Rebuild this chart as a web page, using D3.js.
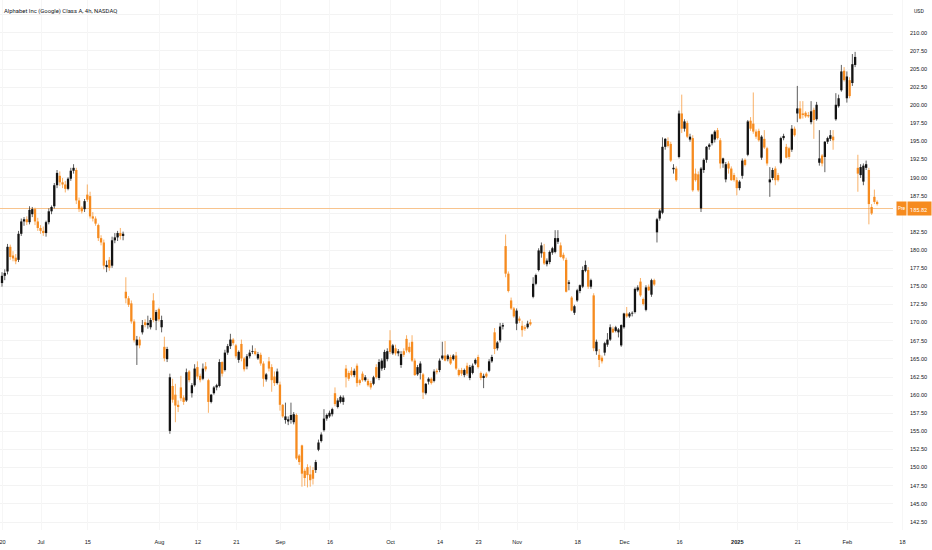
<!DOCTYPE html>
<html>
<head>
<meta charset="utf-8">
<script src="https://cdn.jsdelivr.net/npm/d3@7"></script>
<style>
  html, body { margin: 0; padding: 0; background: #fff; }
  svg { display: block; font-family: Roboto, "Liberation Sans", Arial, sans-serif; }
</style>
</head>
<body>
<svg id="chart" width="932" height="550"></svg>
<script>
// GOOGL 4h bars, Jun 20 2024 .. Feb 10 2025 (two bars per session, one on half days)
var opens = [
  175.4,176.4,177.0,180.4,179.2,178.9,178.6,182.2,183.9,184.2,183.8,184.9,185.6,183.9,
  183.0,182.6,182.3,183.8,185.3,186.0,188.9,190.2,189.3,189.0,188.4,189.8,190.9,191.0,186.8,185.8,185.6,187.6,187.4,184.6,184.3,183.4,181.6,181.0,177.6,178.6,177.8,181.3,181.7,182.3,181.9,174.2,173.3,172.6,170.1,166.8,167.6,168.6,170.0,169.6,169.3,173.0,170.2,
  171.8,169.3,166.6,164.9,155.0,161.2,160.0,158.6,161.0,159.6,159.2,163.2,160.2,161.3,163.8,162.6,162.2,163.9,162.0,159.0,160.2,161.0,161.2,164.5,163.4,165.8,166.7,167.6,166.8,164.8,167.0,165.0,163.9,165.3,165.9,166.0,165.0,165.5,164.3,162.1,164.6,163.8,162.5,161.6,
  161.4,158.6,156.5,156.3,156.5,156.2,157.2,151.6,153.0,149.5,150.0,149.0,149.6,149.6,152.4,153.6,155.1,156.7,157.0,157.3,160.2,158.3,159.0,159.0,163.6,163.0,163.3,162.7,164.0,162.0,162.9,162.0,161.9,161.6,161.5,163.8,162.3,163.6,163.7,164.9,
  167.5,165.7,166.4,165.7,164.1,166.0,167.7,166.6,167.3,164.7,162.8,163.0,162.8,160.2,161.8,162.2,161.9,163.3,163.4,165.0,165.4,164.9,165.2,164.9,165.4,163.4,163.4,162.7,164.0,162.3,163.0,164.3,165.2,163.0,162.3,162.9,163.3,164.6,168.6,166.4,167.5,169.4,180.5,176.7,173.0,171.9,
  169.8,170.5,169.5,169.3,169.3,170.0,173.5,175.3,177.2,179.5,179.7,178.0,178.3,179.6,179.7,181.1,180.6,179.3,178.6,175.3,173.4,171.3,173.0,174.3,174.9,177.1,177.2,174.9,173.7,166.0,165.5,165.1,165.8,166.9,167.6,169.1,168.8,168.6,166.8,
  169.3,171.2,170.8,171.2,171.4,174.4,175.6,173.2,171.7,174.9,173.8,175.8,182.4,184.3,185.1,194.2,195.0,194.6,191.1,191.2,192.8,198.8,196.7,197.5,195.2,195.4,190.5,190.4,185.7,191.0,192.4,194.2,194.7,195.2,196.5,195.1,191.9,189.7,191.9,191.2,190.3,
  189.6,188.5,190.2,192.4,193.1,197.8,197.4,196.3,196.4,192.7,195.3,194.0,189.3,189.9,191.2,190.3,192.0,195.4,194.2,194.0,193.8,196.7,198.8,199.5,198.8,198.9,198.6,197.6,199.3,198.0,192.0,193.0,192.8,194.9,195.3,195.6,198.0,199.8,202.0,204.7,
  200.9,203.4,203.0,205.5,191.3,190.3,189.4,191.3,191.0,185.9,187.3,186.6
];
var highs = [
  176.9,177.3,180.8,180.7,179.8,179.4,182.6,184.3,184.5,184.6,186.0,185.9,185.8,184.4,
  183.4,183.2,184.0,185.7,186.1,189.2,191.0,190.8,189.9,189.5,190.0,191.3,191.8,191.3,187.2,186.0,187.0,189.0,188.0,185.2,184.6,183.6,182.0,181.4,178.5,179.0,181.8,182.3,182.6,183.0,182.5,176.2,173.6,173.0,170.4,168.1,168.0,170.3,170.4,170.9,170.6,174.0,171.7,
  172.0,170.9,168.0,166.6,162.9,162.2,161.5,159.2,162.6,159.9,163.6,163.4,161.6,164.2,164.6,162.9,164.3,164.5,162.2,160.1,161.2,161.5,164.9,164.6,166.2,167.0,168.4,167.8,167.0,166.1,167.6,165.2,165.6,166.2,166.8,166.4,165.9,165.8,164.6,163.0,165.2,164.2,163.2,163.6,
  161.8,158.7,158.9,157.0,158.9,157.6,157.4,151.8,153.1,149.8,150.4,150.2,150.0,151.0,153.8,154.8,158.0,157.4,157.8,158.2,161.0,159.5,159.9,159.9,164.1,163.3,163.8,163.6,164.3,162.2,163.2,162.7,162.2,161.9,162.6,164.2,164.9,165.0,166.2,166.4,
  168.9,167.0,166.9,166.3,166.0,166.4,168.2,167.2,168.2,165.0,164.1,164.6,163.0,161.6,162.4,162.4,163.5,163.6,165.0,167.3,167.4,165.6,165.5,165.6,165.9,163.6,163.7,163.6,164.4,164.1,164.3,165.0,165.5,163.2,162.9,163.1,164.9,165.5,169.2,167.4,169.9,169.9,182.1,177.0,173.4,172.1,
  171.9,170.8,170.2,169.6,170.2,170.4,176.2,176.7,180.2,181.0,180.8,178.8,179.9,180.4,182.7,182.7,181.0,179.6,178.9,175.8,173.6,172.4,174.6,175.2,177.7,178.5,177.6,176.0,174.0,167.6,166.3,165.4,167.3,168.5,169.7,169.4,169.5,169.2,169.7,
  171.3,172.1,171.4,171.5,174.8,175.1,176.1,173.4,175.1,175.2,176.0,176.0,184.4,185.6,195.5,195.4,195.5,194.9,191.8,191.5,199.2,201.4,198.0,197.8,196.0,195.8,191.2,190.8,191.4,192.6,194.3,194.7,196.0,196.5,196.8,195.4,192.7,192.1,192.2,191.5,190.6,
  190.0,189.6,192.6,192.6,197.9,198.3,201.7,196.6,196.7,195.8,196.5,194.2,191.4,191.3,191.5,190.6,195.6,196.0,194.6,194.2,197.2,197.0,202.6,200.5,200.5,199.1,199.0,200.5,199.6,200.4,196.5,193.2,195.0,195.6,196.5,196.5,201.6,201.4,205.5,205.2,
  204.6,203.8,207.0,207.3,193.1,191.8,191.9,192.3,191.3,186.3,188.3,186.8
];
var lows = [
  174.9,175.8,176.6,178.6,178.4,178.0,178.3,181.9,183.3,183.4,183.5,184.5,183.4,182.6,
  182.2,181.9,181.8,183.5,184.9,185.7,188.5,188.8,188.5,187.9,188.2,189.5,190.5,186.3,185.2,185.0,185.2,186.6,184.3,183.9,183.3,181.2,180.6,177.3,176.9,177.1,177.5,180.9,181.2,181.4,181.3,172.6,172.1,169.8,167.2,164.1,166.4,168.3,169.3,169.1,169.0,170.0,168.9,
  170.1,168.6,164.6,164.5,154.6,158.9,156.2,157.6,159.1,158.6,159.0,161.7,159.6,161.1,162.2,161.7,162.0,163.2,157.5,158.8,160.0,160.6,161.0,162.5,163.2,165.5,166.3,166.8,165.0,164.4,164.6,163.2,163.5,165.0,165.6,165.4,164.8,164.0,161.1,161.8,163.2,160.4,161.2,161.4,
  157.8,156.8,156.0,155.8,156.0,155.9,151.0,150.3,147.3,147.4,147.2,147.3,147.6,149.2,152.2,153.4,154.9,156.4,156.8,157.0,158.4,158.1,158.8,158.6,161.0,161.9,162.5,162.4,161.1,161.3,161.8,161.8,161.1,160.7,161.3,162.2,162.0,163.3,163.4,164.6,
  165.6,165.5,165.4,165.3,163.7,165.2,165.8,165.7,164.5,162.6,162.6,162.1,159.4,160.0,161.4,161.4,161.7,162.8,163.1,164.8,164.6,164.6,164.1,164.7,163.4,162.5,162.6,162.4,162.6,162.0,162.8,164.1,163.6,162.0,160.9,162.3,163.1,164.4,165.6,166.1,167.2,169.0,176.2,174.1,171.7,170.6,
  168.9,169.9,168.0,168.8,169.1,169.5,173.3,175.1,177.0,178.9,177.9,177.7,178.0,179.3,179.5,180.8,178.9,178.5,174.1,174.4,171.5,171.0,172.8,174.0,174.7,176.9,174.6,174.6,166.0,165.5,163.8,164.3,165.4,166.6,167.4,168.5,168.6,167.9,166.6,
  169.1,170.6,170.6,170.8,171.2,174.2,173.5,172.3,171.5,174.3,173.5,175.0,181.0,184.0,184.9,193.8,194.1,192.1,190.5,189.4,192.6,196.1,196.3,195.4,194.9,188.0,189.4,188.0,185.2,190.6,192.0,193.8,194.4,194.8,195.2,191.2,191.3,189.3,190.5,189.5,189.4,
  187.5,188.2,189.8,191.5,192.9,196.4,196.0,195.3,194.9,192.4,193.9,191.6,187.3,189.6,188.9,189.4,191.8,195.1,192.6,192.5,193.5,195.6,197.6,198.0,198.1,198.2,198.2,197.3,195.3,197.8,191.6,191.5,190.7,194.6,195.0,193.8,197.8,199.6,201.8,203.2,
  200.3,200.9,202.6,205.2,188.0,189.9,188.9,191.0,183.5,184.8,186.3,186.1
];
var closes = [
  176.4,176.8,180.4,179.0,178.8,178.4,182.2,183.9,184.2,183.8,185.5,185.6,183.9,183.0,
  182.6,182.3,183.8,185.3,185.9,188.9,190.6,189.3,189.0,188.4,189.8,190.9,191.3,186.8,185.6,185.3,186.7,186.9,184.6,184.3,183.6,181.6,181.0,177.8,177.9,177.5,181.3,181.7,182.3,181.9,182.2,173.3,172.4,170.1,167.5,167.6,166.8,169.6,169.6,169.9,170.3,170.3,171.4,
  170.4,170.3,165.0,166.3,162.4,159.3,158.5,158.3,159.5,159.0,163.1,162.0,161.3,163.6,162.5,162.0,163.6,163.5,159.0,160.0,161.0,161.3,164.5,162.9,165.8,166.7,167.6,167.1,165.3,165.9,165.0,163.5,165.3,165.8,166.0,165.6,165.6,164.3,162.2,162.8,163.6,162.0,161.6,163.2,
  158.6,157.0,157.0,156.6,157.2,157.3,151.2,150.7,149.1,148.5,148.9,148.2,148.4,150.7,153.4,154.5,156.7,157.2,157.5,158.0,158.7,159.2,159.7,159.6,162.4,162.2,162.7,163.3,161.6,161.6,162.0,162.4,161.3,161.0,162.4,162.4,164.5,164.7,165.9,166.0,
  165.9,166.8,165.7,166.0,165.6,165.5,166.1,165.9,164.7,162.7,163.8,164.3,160.3,161.5,162.2,161.6,163.2,163.1,164.7,165.4,164.7,165.4,164.3,165.4,163.6,162.7,162.9,163.4,162.9,163.8,164.0,164.8,163.8,162.3,162.6,162.5,164.6,165.2,166.3,167.2,169.4,169.6,176.7,174.3,171.9,170.8,
  171.6,170.2,168.9,169.1,169.8,169.7,175.3,176.5,179.9,180.6,178.1,178.5,179.7,180.2,181.6,181.6,179.0,178.8,174.2,175.5,171.6,172.2,174.4,175.1,177.2,177.9,174.9,175.8,166.4,167.3,164.8,164.6,167.1,167.6,169.3,168.6,169.3,169.0,169.6,
  171.2,170.8,171.2,171.3,174.6,174.8,173.7,172.5,174.8,174.4,175.8,175.2,184.2,185.4,194.2,195.3,194.3,192.3,191.3,189.6,198.8,196.7,197.7,195.6,195.6,188.2,189.6,188.2,191.2,192.4,194.2,194.5,195.9,196.3,195.4,191.9,192.6,191.8,191.2,189.6,189.6,
  188.5,189.4,192.3,191.7,197.7,196.7,196.3,195.6,195.1,195.6,194.1,191.9,189.7,191.0,189.6,189.6,195.4,195.7,192.7,192.8,196.7,195.8,199.5,198.1,198.6,198.4,198.4,199.1,197.9,200.0,192.6,191.9,194.9,195.4,195.8,195.1,200.0,200.9,204.6,203.4,
  203.9,201.2,205.6,206.6,190.5,191.4,191.6,191.8,186.3,185.0,186.6,186.3
];

// time axis: bar index of each label and its text
var timeTickIdx = [0, 14, 31, 57, 71, 85, 101, 119, 141, 159, 173, 187, 209, 226, 246, 267, 289, 307, 327];
var timeTickLabels = ["20", "Jul", "15", "Aug", "12", "21", "Sep", "16", "Oct", "14", "23", "Nov", "18", "Dec", "16", "2025", "21", "Feb", "18"];
var priceTicks = [142.5, 145, 147.5, 150, 152.5, 155, 157.5, 160, 162.5, 165, 167.5, 170, 172.5, 175, 177.5,
                  180, 182.5, 185, 187.5, 190, 192.5, 195, 197.5, 200, 202.5, 205, 207.5, 210, 212.5];
var lastPrice = 185.82;
var title = "Alphabet Inc (Google) Class A, 4h, NASDAQ";

var W = 932, H = 550;
var plotRight = 893, plotBottom = 530;
var barStep = 2.752, bodyW = 2.3;
var upColor = "#131313", downColor = "#f68b1f", textColor = "#131722";

var svg = d3.select("#chart");

var x = d3.scaleLinear().domain([0, 327]).range([2, 2 + barStep * 327]);
var y = d3.scaleLinear().domain([142.5, 210]).range([521.5, 32.3]);

var bars = d3.range(closes.length).map(function(i) {
  return { i: i, o: opens[i], h: highs[i], l: lows[i], c: closes[i] };
});

svg.append("defs").append("clipPath").attr("id", "plotclip")
  .append("rect").attr("x", 0).attr("y", 0).attr("width", plotRight).attr("height", plotBottom);

// grid
var grid = svg.append("g");
grid.selectAll(".hg").data(priceTicks).enter().append("line")
  .attr("x1", 0).attr("x2", plotRight)
  .attr("y1", function(d) { return Math.round(y(d)) + 0.5; })
  .attr("y2", function(d) { return Math.round(y(d)) + 0.5; })
  .attr("stroke", "#f3f3f3").attr("stroke-width", 1);
grid.selectAll(".vg").data(timeTickIdx).enter().append("line")
  .attr("x1", function(d) { return Math.round(x(d)) + 0.5; })
  .attr("x2", function(d) { return Math.round(x(d)) + 0.5; })
  .attr("y1", 0).attr("y2", plotBottom)
  .attr("stroke", "#f6f6f6").attr("stroke-width", 1);

var plot = svg.append("g").attr("clip-path", "url(#plotclip)");

// last (pre-market) price line
var tagY = Math.round(y(lastPrice)) + 0.5;
plot.append("line")
  .attr("x1", 0).attr("x2", plotRight)
  .attr("y1", tagY).attr("y2", tagY)
  .attr("stroke", "#f8c48e").attr("stroke-width", 1);

function colorOf(d) { return d.c >= d.o ? upColor : downColor; }

plot.selectAll(".wick").data(bars).enter().append("line")
  .attr("class", "wick")
  .attr("x1", function(d) { return x(d.i); })
  .attr("x2", function(d) { return x(d.i); })
  .attr("y1", function(d) { return y(Math.max(d.h, d.o, d.c)); })
  .attr("y2", function(d) { return y(Math.min(d.l, d.o, d.c)); })
  .attr("stroke", colorOf).attr("stroke-width", 0.8).attr("stroke-opacity", 0.85);

plot.selectAll(".body").data(bars).enter().append("rect")
  .attr("class", "body")
  .attr("x", function(d) { return x(d.i) - bodyW / 2; })
  .attr("width", bodyW)
  .attr("y", function(d) { return y(Math.max(d.o, d.c)); })
  .attr("height", function(d) { return Math.max(0.8, Math.abs(y(d.o) - y(d.c))); })
  .attr("fill", colorOf);

// price scale (labels near the price tag are hidden like the original)
var yAxis = d3.axisRight(y)
  .tickValues(priceTicks.filter(function(p) { return p <= 210 && Math.abs(y(p) - tagY) > 9; }))
  .tickFormat(d3.format(".2f")).tickSize(0).tickPadding(0);
var yg = svg.append("g").attr("transform", "translate(910,0)").call(yAxis);
yg.select(".domain").remove();
yg.selectAll("text").attr("font-size", 5.6).attr("font-family", null).attr("fill", textColor);

// time scale
var xAxis = d3.axisBottom(x)
  .tickValues(timeTickIdx)
  .tickFormat(function(d, i) { return timeTickLabels[i]; })
  .tickSize(0).tickPadding(3);
var xg = svg.append("g").attr("transform", "translate(0,537)").call(xAxis);
xg.select(".domain").remove();
xg.selectAll("text").attr("font-size", 5.6).attr("font-family", null).attr("fill", textColor)
  .attr("font-weight", function(d, i) { return timeTickLabels[i] === "2025" ? "bold" : null; });

// header texts
svg.append("text").attr("x", 4).attr("y", 12.5).attr("font-size", 5.9).attr("fill", textColor).text(title);
svg.append("text").attr("x", 914).attr("y", 13).attr("font-size", 5.2).attr("fill", textColor).text("USD");

// pre-market tag and price tag
svg.append("rect").attr("x", 896.5).attr("y", tagY - 7).attr("width", 10).attr("height", 14).attr("fill", downColor);
svg.append("text").attr("x", 901.5).attr("y", tagY + 1.8).attr("text-anchor", "middle")
  .attr("font-size", 4.8).attr("fill", "#fff").text("Pre");
svg.append("rect").attr("x", 907.5).attr("y", tagY - 7).attr("width", 24).attr("height", 14).attr("fill", downColor);
svg.append("text").attr("x", 910).attr("y", tagY + 3.6)
  .attr("font-size", 5.6).attr("fill", "#fff").text(d3.format(".2f")(lastPrice));
</script>
</body>
</html>
